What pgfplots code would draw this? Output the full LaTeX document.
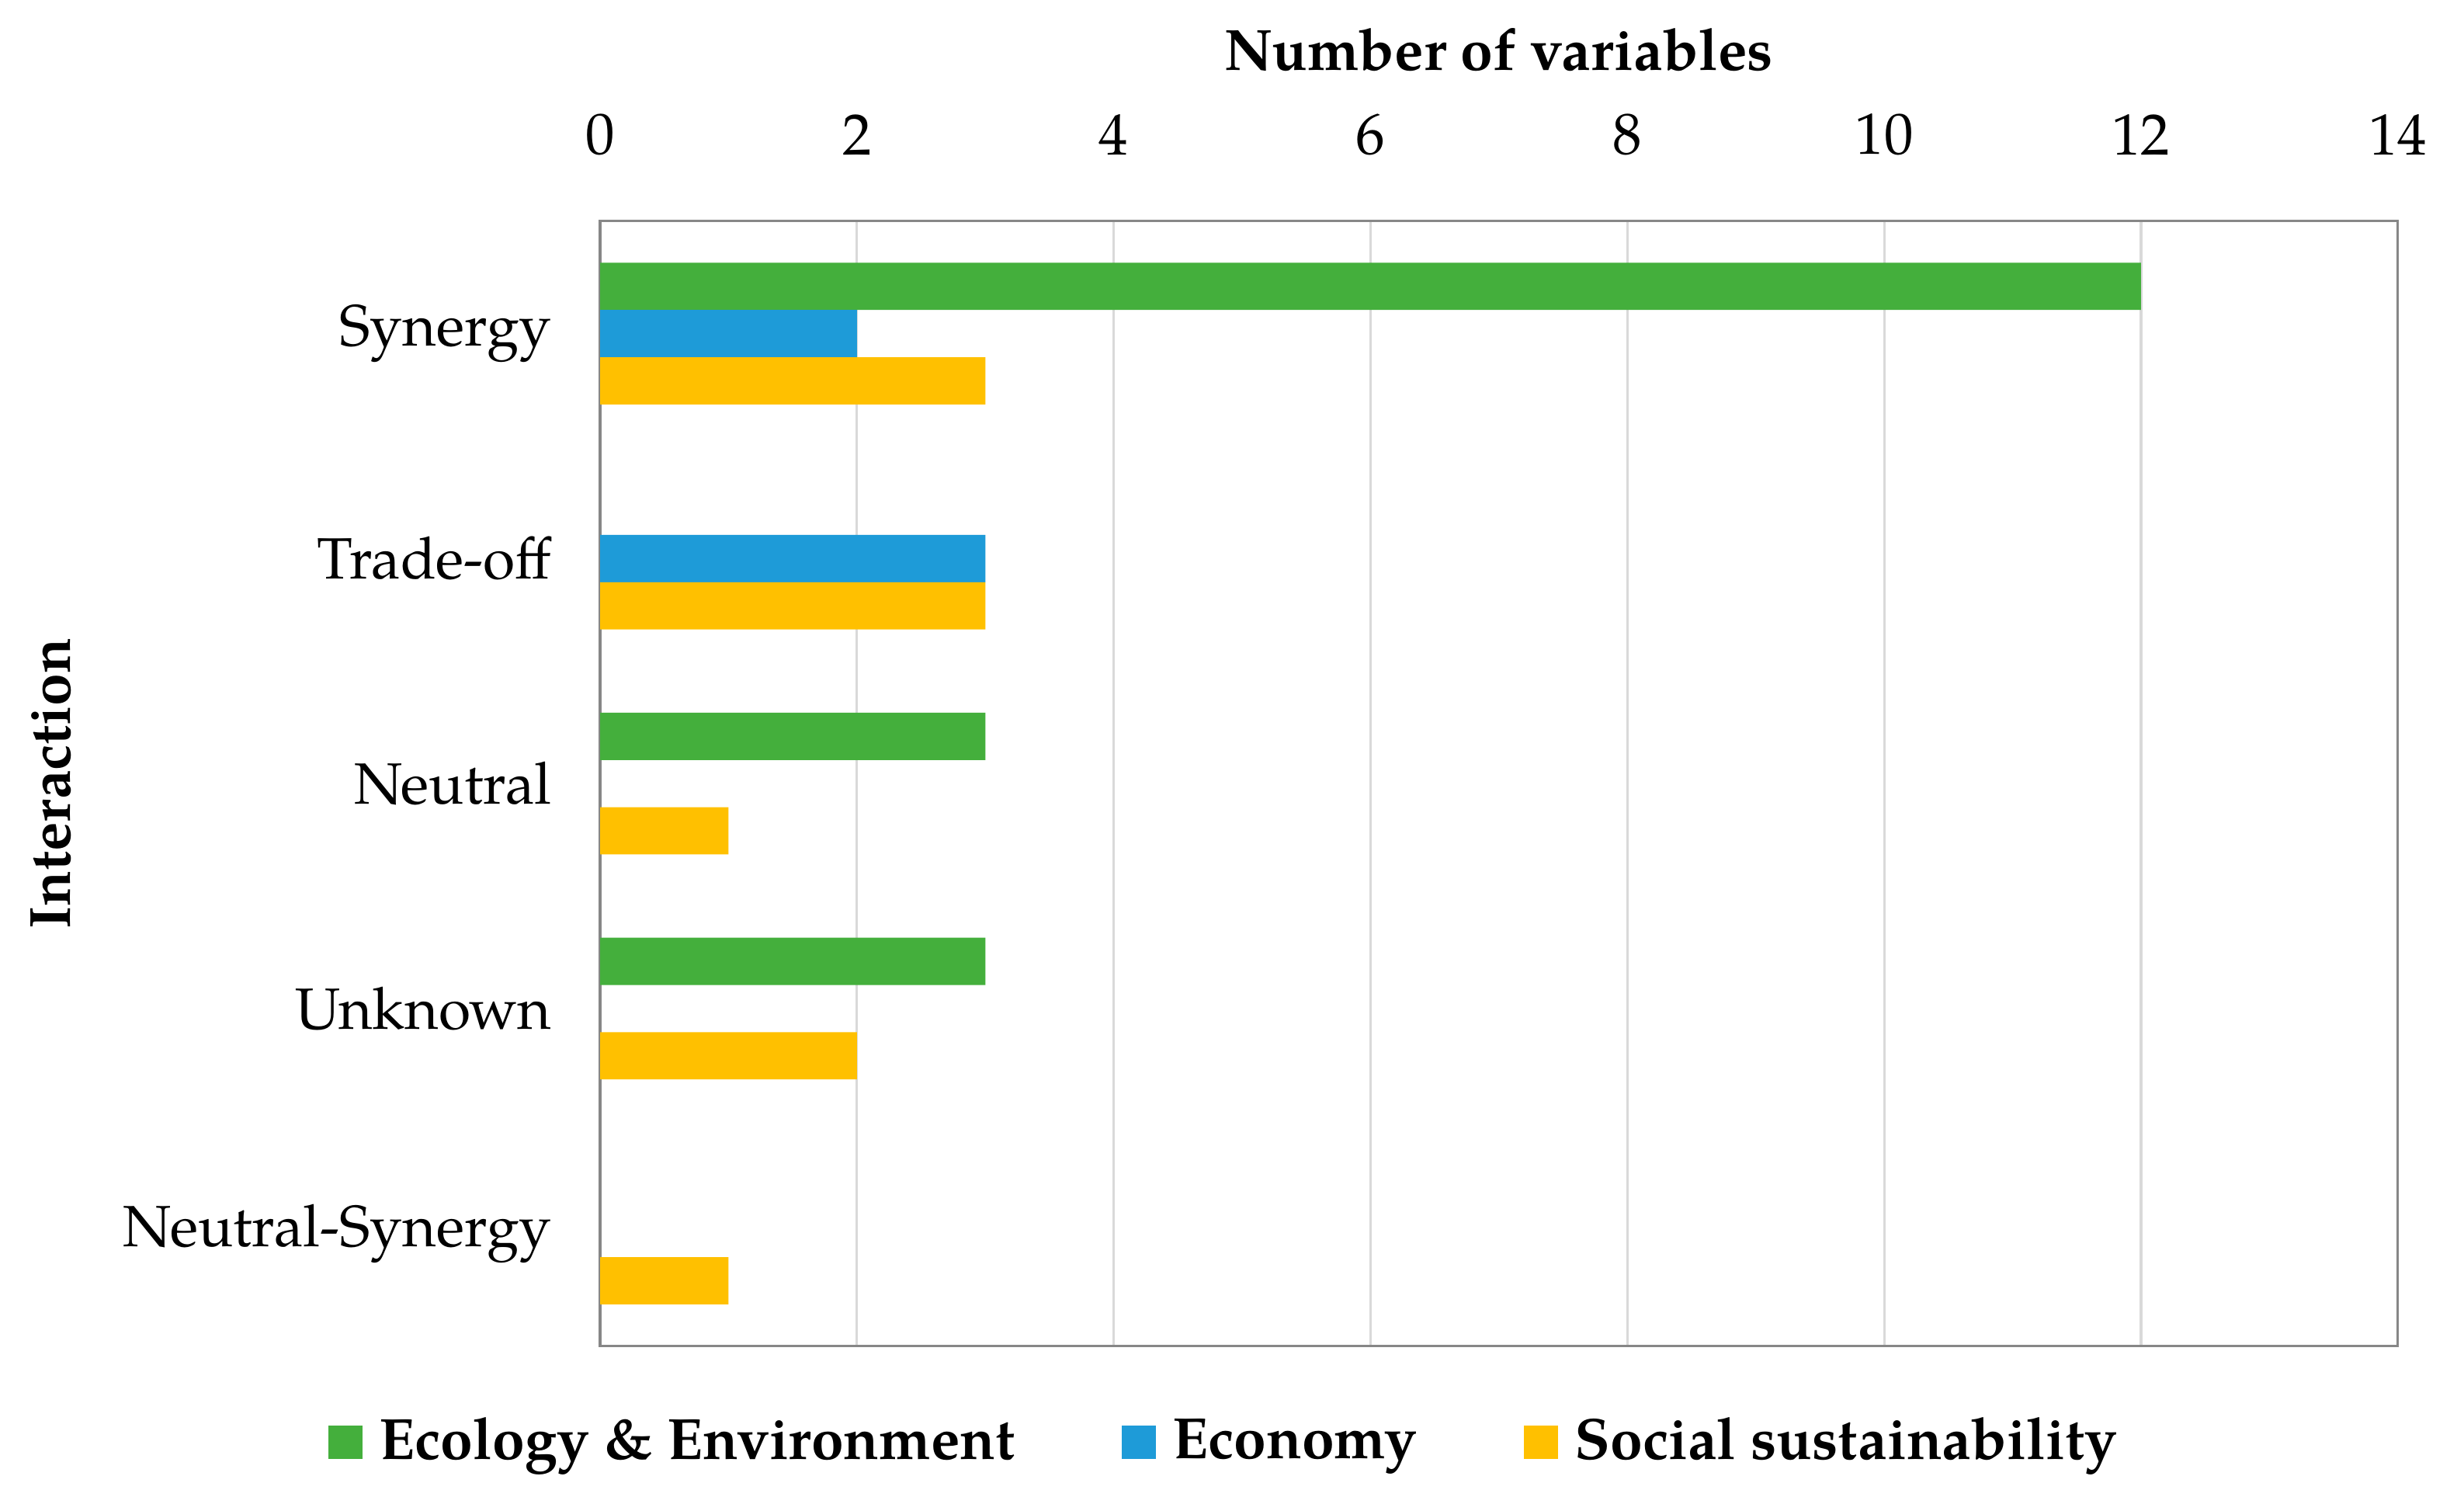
\documentclass[border=0pt]{standalone}
\usepackage{pgfplots}
\pgfplotsset{compat=1.18}
\usepackage{fontspec}
\setmainfont{TeX Gyre Pagella}
\newcommand{\fsz}{\fontsize{12}{14}\selectfont}
\definecolor{ecocol}{HTML}{44AF3C}
\definecolor{econcol}{HTML}{1E9BD8}
\definecolor{soccol}{HTML}{FFC000}
\definecolor{framecol}{HTML}{878787}
\definecolor{gridcol}{HTML}{D9D9D9}
\begin{document}
\begin{tikzpicture}[font=\fsz]
\begin{axis}[
	xbar,
	scale only axis,
	width=370.56pt,
	height=231.84pt,
	xmin=0, xmax=14,
	xtick={0,2,...,14},
	ymin=-0.5, ymax=4.5,
	y dir=reverse,
	ytick={0,1,2,3,4},
	yticklabels={Synergy,Trade-off,Neutral,Unknown,Neutral-Synergy},
	major tick length=0pt,
	xticklabel pos=upper,
	xmajorgrids=true,
	grid style={gridcol, line width=0.5pt},
	axis line style={framecol, line width=0.5pt},
	tick label style={font=\fsz},
	/pgf/number format/assume math mode=true,
	xticklabel style={yshift=10pt},
	yticklabel style={xshift=-6.5pt},
	xlabel={\textbf{Number of variables}},
	xlabel style={font=\fsz, at={(axis description cs:0.5,1.152)}, anchor=center},
	ylabel={\textbf{Interaction}},
	ylabel style={font=\fsz, at={(axis description cs:-0.3057,0.5)}, anchor=center},
	bar width=0.21,
	legend columns=3,
	legend style={draw=none, font=\fsz\bfseries, at={(axis description cs:0.349,-0.0856)}, anchor=center,
		/tikz/every odd column/.append style={column sep=1.5pt},
		/tikz/every even column/.append style={column sep=20pt}},
	legend image code/.code={\path[fill, draw=none] (0pt,-3.5pt) rectangle (7pt,3.5pt);},
]
\addplot[fill=ecocol, draw=none, bar shift=-0.21]
coordinates{
	(12,0)
	(3,2)
	(3,3)
};
\addlegendentry{Ecology \& Environment}

\addplot[fill=econcol, draw=none, bar shift=0]
coordinates{
	(2,0)
	(3,1)
};
\addlegendentry{Economy}

\addplot[fill=soccol, draw=none, bar shift=0.21]
coordinates{
	(3,0)
	(3,1)
	(1,2)
	(2,3)
	(1,4)
};
\addlegendentry{Social sustainability}
\end{axis}
\path (-123.7pt,-31pt) rectangle (384.2pt,277.4pt);
\end{tikzpicture}
\end{document}
